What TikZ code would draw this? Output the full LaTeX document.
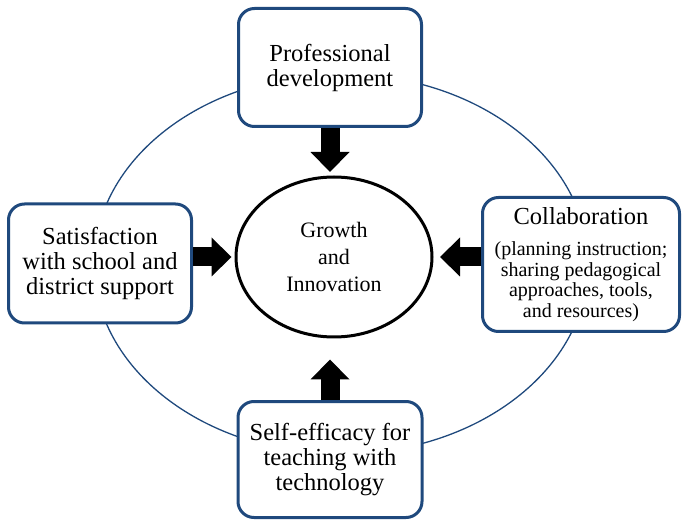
\documentclass[tikz,border=0pt]{standalone}
\usepackage{fontspec}
\setmainfont{Liberation Serif}
\usetikzlibrary{shapes.geometric,arrows.meta}

\definecolor{boxblue}{RGB}{31,73,125}

\tikzset{
  box/.style={draw=boxblue,line width=3pt,fill=white,rounded corners=16pt,
    align=center,font=\fontsize{24.5}{25}\selectfont},
  push/.style={line width=19pt,-{Triangle[width=39pt,length=20pt,line width=0pt]}},
}

\begin{document}
\begin{tikzpicture}[x=1pt,y=-1pt]
      \useasboundingbox (0,0) rectangle (683,521);

      % ring behind everything
      \draw[boxblue,line width=1.3pt] (341,264) ellipse [x radius=247,y radius=190];

      % centre
      \node (grow) at (334,257) [draw,ellipse,line width=3pt,fill=white,
        minimum width=196pt,minimum height=160pt,align=center,
        font=\fontsize{22}{27}\selectfont] {Growth\\and\\Innovation};

      % boxes
      \node (prof) at (330,67.5) [box,minimum width=183pt,minimum height=118pt]
        {Professional\\development};
      \node (sat) at (100,263.5) [box,minimum width=183pt,minimum height=119pt]
        {Satisfaction\\with school and\\district support};
      \node (collab) at (581,264.5) [box,minimum width=197pt,minimum height=134pt,
        font=\fontsize{20}{20.5}\selectfont]
        {{\fontsize{24.5}{25}\selectfont Collaboration}\\[11pt](planning instruction;\\sharing pedagogical\\approaches, tools,\\and resources)};
      \node (self) at (330,459.5) [box,minimum width=184pt,minimum height=116pt]
        {Self-efficacy for\\teaching with\\technology};

      % arrows into the centre
      \draw[push,shorten >=3.5pt] (prof.south) to (prof.south |- grow.north);
      \draw[push,shorten >=3pt] (sat.east |- grow) to (grow.west);
      \draw[push,shorten >=6.5pt] (collab.west |- grow) to (grow.east);
      \draw[push,shorten >=21pt] (self.north) to (self.north |- grow.south);

\end{tikzpicture}
\end{document}
